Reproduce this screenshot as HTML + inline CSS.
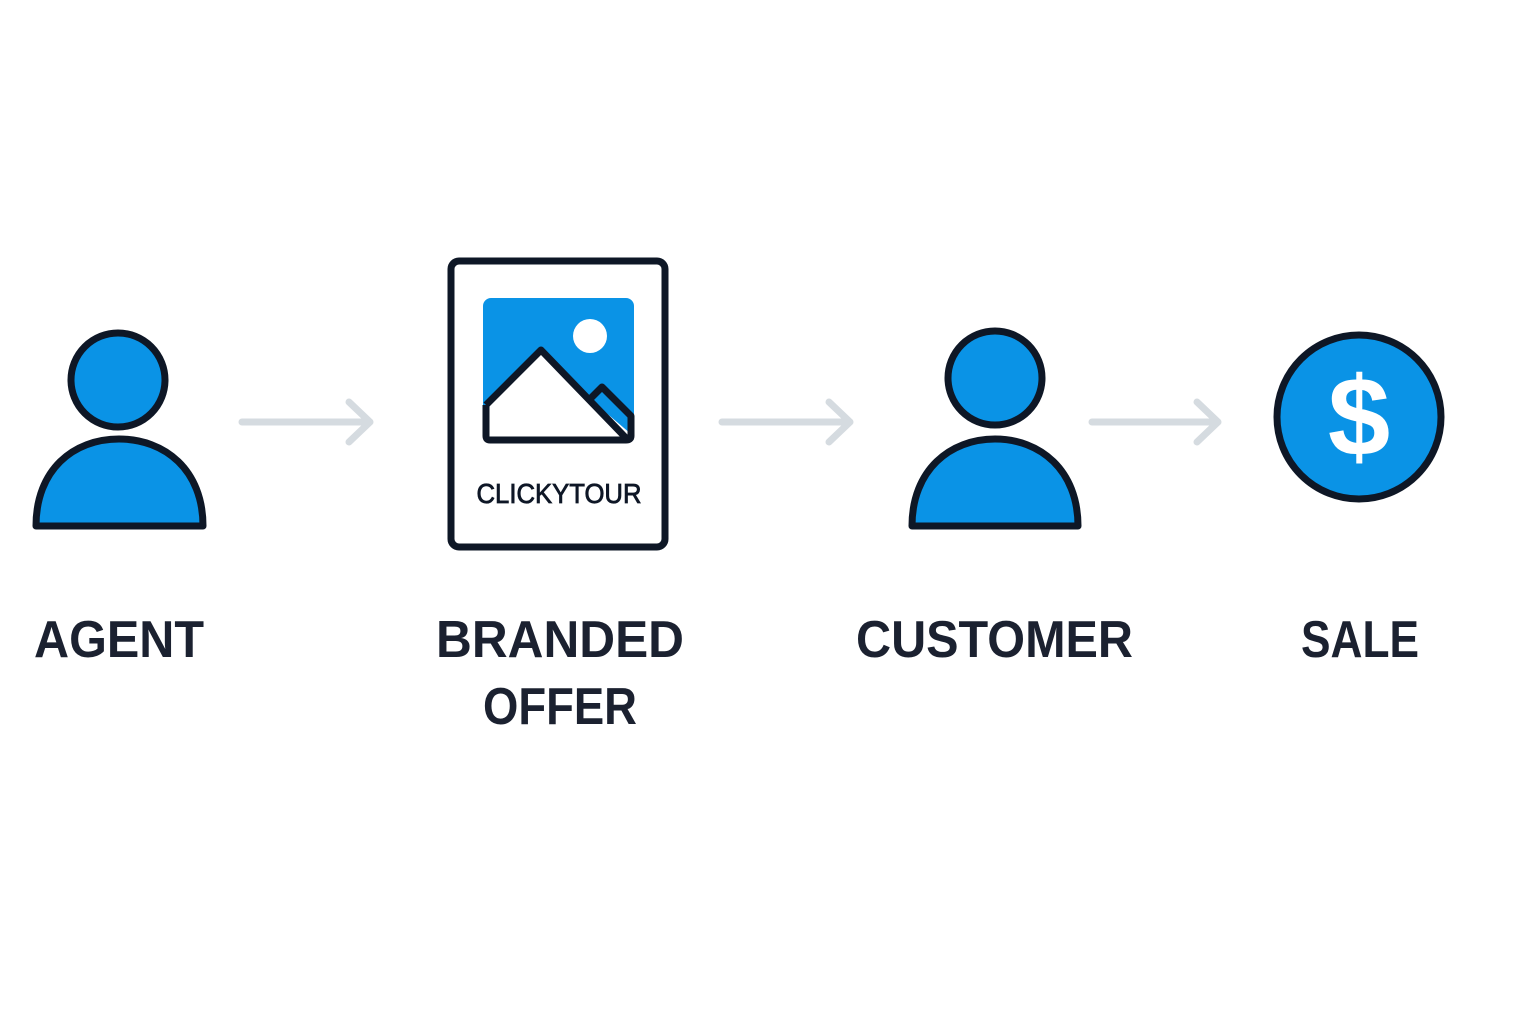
<!DOCTYPE html>
<html><head><meta charset="utf-8"><style>html,body{margin:0;padding:0;background:#fff}svg{display:block}</style></head>
<body>
<svg width="1536" height="1024" viewBox="0 0 1536 1024" xmlns="http://www.w3.org/2000/svg">
<rect width="1536" height="1024" fill="#fff"/>
<g stroke="#0e1726" stroke-width="7" fill="#0a93e6" stroke-linejoin="round">
  <circle cx="118" cy="380" r="47"/>
  <path d="M36,526 L203,526 C203,470 165,439 119,439 C73,439 36,470 36,526Z"/>
  <circle cx="995" cy="378" r="47"/>
  <path d="M912,526 L1078,526 C1078,470 1040,439 995,439 C950,439 912,470 912,526Z"/>
  <circle cx="1359" cy="417" r="82"/>
</g>
<text x="1359" y="455" text-anchor="middle" font-family="Liberation Sans, sans-serif" font-weight="bold" font-size="112" fill="#fff">$</text>
<!-- card -->
<rect x="451" y="261" width="214" height="286" rx="8" fill="#fff" stroke="#0e1726" stroke-width="7"/>
<rect x="483" y="298" width="151" height="145" rx="8" fill="#0a93e6"/>
<rect x="600" y="420" width="36" height="26" fill="#fff"/>
<circle cx="590" cy="336" r="17" fill="#fff"/>
<path d="M486,405 L541,350 L590,399 L602,387 L631,416 L631,437 L626,440 L490,440 L486,437 Z" fill="#fff"/>
<path d="M590,399 L602,387 L631,416 L631,434 Z" fill="#0a93e6"/>
<path d="M486,405 L541,350 L626,438 M590,399 L602,387 L631,416 L631,436 Q631,440 626,440 L490,440 Q486,440 486,436 L486,405" fill="none" stroke="#0e1726" stroke-width="7" stroke-linejoin="round"/>
<text x="559" y="503" text-anchor="middle" font-family="Liberation Sans, sans-serif" font-size="28" stroke="#0e1726" stroke-width="0.8" textLength="165" lengthAdjust="spacingAndGlyphs" fill="#0e1726">CLICKYTOUR</text>
<!-- arrows -->
<g stroke="#d5dbe0" stroke-width="7" fill="none" stroke-linecap="round" stroke-linejoin="round">
  <path d="M242,422 L370,422 M349,402 L370,422 L349,442"/>
  <path d="M722,422 L850,422 M829,402 L850,422 L829,442"/>
  <path d="M1092,422 L1218,422 M1197,402 L1218,422 L1197,442"/>
</g>
<g font-family="Liberation Sans, sans-serif" font-weight="bold" font-size="52" fill="#1b2130">
  <text x="34" y="657" textLength="170" lengthAdjust="spacingAndGlyphs">AGENT</text>
  <text x="436" y="657" textLength="248" lengthAdjust="spacingAndGlyphs">BRANDED</text>
  <text x="483" y="724" textLength="154" lengthAdjust="spacingAndGlyphs">OFFER</text>
  <text x="856" y="657" textLength="277" lengthAdjust="spacingAndGlyphs">CUSTOMER</text>
  <text x="1301" y="657" textLength="118" lengthAdjust="spacingAndGlyphs">SALE</text>
</g>
</svg>
</body></html>
